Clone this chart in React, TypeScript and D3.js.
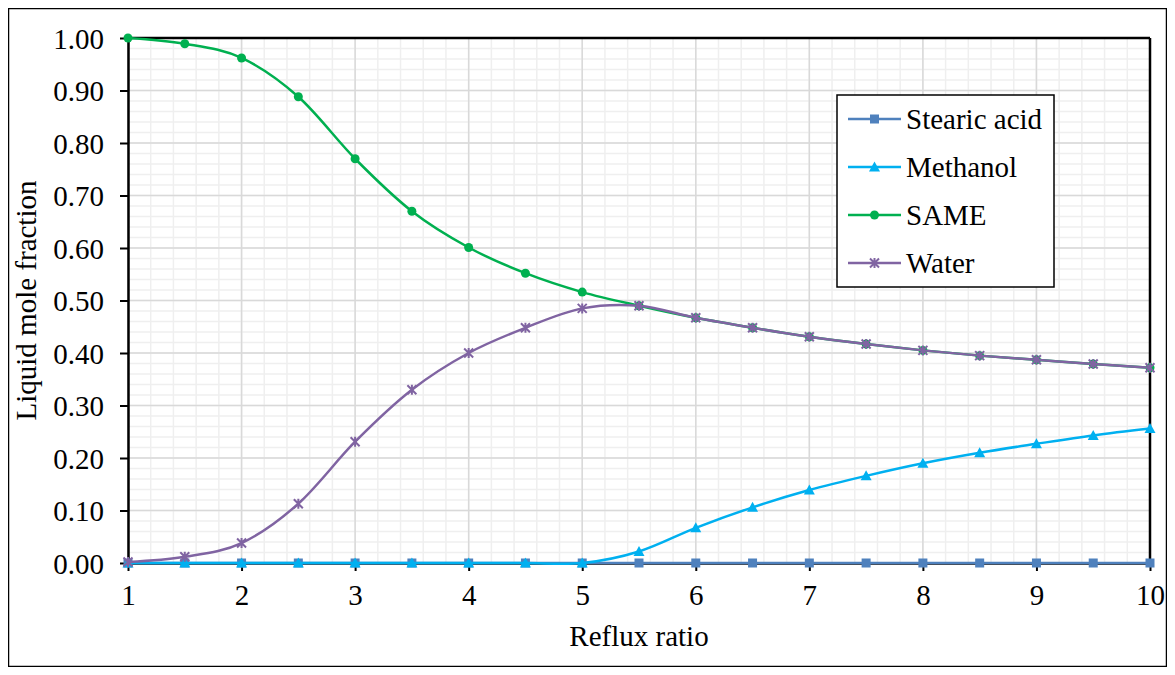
import * as d3 from "d3";
import { useRef, useEffect } from "react";

// reflux ratio values (x)
const refluxRatio = [1, 1.5, 2, 2.5, 3, 3.5, 4, 4.5, 5, 5.5, 6, 6.5, 7, 7.5, 8, 8.5, 9, 9.5, 10];

// liquid mole fractions
const stearicAcid = [0, 0, 0, 0, 0, 0, 0, 0, 0, 0, 0, 0, 0, 0, 0, 0, 0, 0, 0];
const methanol = [0, 0, 0, 0, 0, 0, 0, 0, 0, 0.022, 0.067, 0.106, 0.139, 0.166, 0.19, 0.21, 0.227, 0.243, 0.256];
const same = [1.0, 0.989, 0.962, 0.888, 0.77, 0.67, 0.601, 0.552, 0.516, 0.49, 0.467, 0.448, 0.431, 0.417, 0.405, 0.395, 0.387, 0.379, 0.372];
const water = [0.002, 0.012, 0.038, 0.113, 0.231, 0.33, 0.4, 0.448, 0.485, 0.49, 0.467, 0.448, 0.431, 0.417, 0.405, 0.395, 0.387, 0.379, 0.372];

const seriesNames = ["Stearic acid", "Methanol", "SAME", "Water"];
const seriesColors = ["#4F81BD", "#00B0F0", "#00B050", "#8064A2"];
const seriesMarkers = ["square", "triangle", "circle", "star"];

const xTicks = [1, 2, 3, 4, 5, 6, 7, 8, 9, 10];
const yTicks = [0, 0.1, 0.2, 0.3, 0.4, 0.5, 0.6, 0.7, 0.8, 0.9, 1.0];

const FONT = '"Liberation Serif", "Times New Roman", "DejaVu Serif", serif';
const FSIZE = 29;

const App = () => {
  const container = useRef(null);

  useEffect(() => {
    createChart();
  });

  const createChart = () => {
    let node = container.current;
    let width = 1175;
    let height = 675;
    let margins = { t: 38, b: 112, l: 128, r: 25 };
    let cw = width - margins.l - margins.r;
    let ch = height - margins.t - margins.b;

    let svg = d3.select(node).selectAll("svg").data([0]).join("svg")
      .attr("width", width)
      .attr("height", height)
      .attr("font-family", FONT)
      .style("display", "block")
      .style("background", "#fff");
    svg.selectAll("*").remove();

    // outer chart border
    svg.append("rect")
      .attr("x", 8.5).attr("y", 8.5)
      .attr("width", 1158).attr("height", 658)
      .attr("fill", "#fff")
      .attr("stroke", "#000")
      .attr("stroke-width", 1.5);

    let xScale = d3.scaleLinear().domain([1, 10]).range([0, cw]);
    let yScale = d3.scaleLinear().domain([0, 1]).range([ch, 0]);

    let g = svg.append("g").attr("transform", `translate(${margins.l},${margins.t})`);

    // minor gridlines
    let xMinor = d3.range(1, 10.0001, 0.2);
    let yMinor = d3.range(0, 1.0001, 0.02);
    g.append("g").selectAll("line").data(xMinor).join("line")
      .attr("x1", (d) => xScale(d)).attr("x2", (d) => xScale(d))
      .attr("y1", 0).attr("y2", ch)
      .attr("stroke", "#efefef").attr("stroke-width", 1.5);
    g.append("g").selectAll("line").data(yMinor).join("line")
      .attr("x1", 0).attr("x2", cw)
      .attr("y1", (d) => yScale(d)).attr("y2", (d) => yScale(d))
      .attr("stroke", "#efefef").attr("stroke-width", 1.5);

    // major gridlines
    g.append("g").selectAll("line").data(xTicks).join("line")
      .attr("x1", (d) => xScale(d)).attr("x2", (d) => xScale(d))
      .attr("y1", 0).attr("y2", ch)
      .attr("stroke", "#d9d9d9").attr("stroke-width", 1.5);
    g.append("g").selectAll("line").data(yTicks).join("line")
      .attr("x1", 0).attr("x2", cw)
      .attr("y1", (d) => yScale(d)).attr("y2", (d) => yScale(d))
      .attr("stroke", "#d9d9d9").attr("stroke-width", 1.5);

    // axes
    let xAxis = d3.axisBottom(xScale).tickValues(xTicks).tickFormat(d3.format("d")).tickSize(8).tickSizeOuter(0).tickPadding(13);
    let yAxis = d3.axisLeft(yScale).tickValues(yTicks).tickFormat(d3.format(".2f")).tickSize(8).tickSizeOuter(0).tickPadding(16);

    let xg = g.append("g").attr("transform", `translate(0,${ch})`).call(xAxis);
    let yg = g.append("g").call(yAxis);
    [xg, yg].forEach((ax) => {
      ax.attr("font-family", FONT).attr("font-size", FSIZE);
      ax.selectAll("path").attr("stroke", "#000").attr("stroke-width", 2.5);
      ax.selectAll("line").attr("stroke", "#000").attr("stroke-width", 2);
      ax.selectAll("text").attr("fill", "#000");
    });
    yg.selectAll("text").attr("dy", "0.35em");

    // top and right border
    g.append("line").attr("x1", 0).attr("x2", cw).attr("y1", 0).attr("y2", 0)
      .attr("stroke", "#000").attr("stroke-width", 2.5);
    g.append("line").attr("x1", cw).attr("x2", cw).attr("y1", 0).attr("y2", ch)
      .attr("stroke", "#000").attr("stroke-width", 2.5);

    // series
    let allSeries = [stearicAcid, methanol, same, water].map((vals) =>
      vals.map((v, i) => ({ x: refluxRatio[i], y: v }))
    );

    let lineGen = d3.line()
      .x((d) => xScale(d.x))
      .y((d) => yScale(d.y))
      .curve(d3.curveCardinal.tension(0));

    const drawMarker = (sel, type, color) => {
      if (type === "square") {
        sel.append("rect").attr("x", -4.5).attr("y", -4.5).attr("width", 9).attr("height", 9).attr("fill", color);
      } else if (type === "triangle") {
        sel.append("path").attr("d", "M0,-5.5L5.5,4.5L-5.5,4.5Z").attr("fill", color);
      } else if (type === "circle") {
        sel.append("circle").attr("r", 4.5).attr("fill", color);
      } else {
        sel.append("path").attr("d", "M-4.5,-4.5L4.5,4.5M-4.5,4.5L4.5,-4.5M0,-5L0,5")
          .attr("stroke", color).attr("stroke-width", 2).attr("fill", "none");
      }
    };

    allSeries.forEach((data, si) => {
      let sg = g.append("g");
      sg.append("path")
        .datum(data)
        .attr("d", lineGen)
        .attr("fill", "none")
        .attr("stroke", seriesColors[si])
        .attr("stroke-width", 2.5);
      sg.selectAll("g.mk").data(data).join("g")
        .attr("class", "mk")
        .attr("transform", (d) => `translate(${xScale(d.x)},${yScale(d.y)})`)
        .each(function () {
          drawMarker(d3.select(this), seriesMarkers[si], seriesColors[si]);
        });
    });

    // legend
    let lg = svg.append("g").attr("transform", "translate(837,95)");
    lg.append("rect")
      .attr("width", 217).attr("height", 192)
      .attr("fill", "#fff").attr("stroke", "#000").attr("stroke-width", 1.5);
    seriesNames.forEach((name, i) => {
      let row = lg.append("g").attr("transform", `translate(0,${24 + i * 48})`);
      row.append("line").attr("x1", 11).attr("x2", 64).attr("y1", 0).attr("y2", 0)
        .attr("stroke", seriesColors[i]).attr("stroke-width", 2.5);
      drawMarker(row.append("g").attr("transform", "translate(37.5,0)"), seriesMarkers[i], seriesColors[i]);
      row.append("text")
        .attr("x", 69).attr("y", 0).attr("dy", "0.35em")
        .attr("font-size", FSIZE)
        .attr("fill", "#000")
        .text(name);
    });

    // axis titles
    svg.append("text")
      .attr("x", margins.l + cw / 2).attr("y", 646)
      .attr("text-anchor", "middle")
      .attr("font-size", FSIZE)
      .text("Reflux ratio");
    svg.append("text")
      .attr("transform", `translate(36,${margins.t + ch / 2})rotate(-90)`)
      .attr("text-anchor", "middle")
      .attr("font-size", FSIZE)
      .text("Liquid mole fraction");
  };

  return <div ref={container} style={{ width: 1175, height: 675, margin: -8 }}></div>;
};

export default App;
